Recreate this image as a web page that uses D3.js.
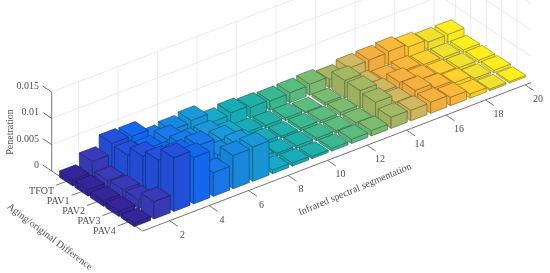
<!DOCTYPE html>
<html>
<head>
<meta charset="utf-8">
<script src="https://d3js.org/d3.v7.min.js"></script>
<style>
  body { margin: 0; background: #fff; }
  svg { filter: blur(0.3px); }
  text { font-family: "Liberation Serif", serif; font-size: 10px; fill: #505050; }
</style>
</head>
<body>
<svg id="chart" width="550" height="273"></svg>
<script>
const rowLabels = ['TFOT', 'PAV1', 'PAV2', 'PAV3', 'PAV4']
const xTicks = [2, 4, 6, 8, 10, 12, 14, 16, 18, 20]
const zTicks = [0, 0.005, 0.01, 0.015]
const zTickLabels = ['0', '0.005', '0.01', '0.015']

// one array per row, 20 segments each
const tfot = [.0012, .0032, .0052, .0051, .0030, .0034, .0038, .0020, .0024, .0020, .0018, .0019, .0021, .0016, .0023, .0024, .0026, .0020, .0015, .0015]
const pav1 = [.0012, .0015, .0049, .0044, .0050, .0030, .0030, .0015, .0006, .0005, .0005, .0002, .0005, .0033, .0010, .0006, .0009, .0006, .0005, .0005]
const pav2 = [.0010, .0017, .0066, .0052, .0059, .0034, .0040, .0017, .0006, .0004, .0005, .0005, .0006, .0033, .0015, .0020, .0011, .0007, .0005, .0005]
const pav3 = [.0010, .0017, .0078, .0075, .0077, .0045, .0050, .0010, .0005, .0005, .0005, .0005, .0006, .0030, .0016, .0024, .0015, .0010, .0004, .0005]
const pav4 = [.0007, .0033, .0102, .0088, .0045, .0063, .0065, .0007, .0006, .0004, .0005, .0008, .0010, .0021, .0020, .0021, .0016, .0008, .0003, .0003]
const rows = [tfot, pav1, pav2, pav3, pav4]

const colColors = ['#35249a', '#3a3ab8', '#2450dc', '#1468ee', '#1a78e8', '#1a88e0', '#1a98d8', '#18a8c8', '#18acb8', '#20b0a8',
  '#3cb890', '#5cbc80', '#7cbc70', '#a4b864', '#d0b860', '#f4b040', '#fbb63c', '#ffd030', '#f0e030', '#ffee20']

const svg = d3.select('#chart')

// the three axes of the box, as fractions of their on-screen run
const xs = d3.scaleLinear().domain([0.64, 20.3]).range([0, 1])
const rs = d3.scaleLinear().domain([0, 5.9]).range([0, 1])
const zs = d3.scaleLinear().domain([0, 0.015]).range([0, 79])

function project(x, r, z) {
  const u = xs(x), v = rs(r)
  return [51.7 + u * 388.3 + v * 91, 171 - u * 148.4 + v * 60 - zs(z)]
}
const line = pts => 'M' + pts.map(p => p.join(',')).join('L') + 'Z'

// back wall grid
const grid = svg.append('g').attr('fill', 'none').attr('stroke', '#e6e6e6').attr('stroke-width', 0.8)
function gridLine(a, b) { grid.append('line').attr('x1', a[0]).attr('y1', a[1]).attr('x2', b[0]).attr('y2', b[1]) }
xTicks.forEach(x => gridLine(project(x, 0, 0), project(x, 0, 0.015)))
d3.range(1, 6).forEach(r => gridLine(project(20.3, r, 0), project(20.3, r, 0.015)))
zTicks.forEach(z => {
  gridLine(project(0.64, 0, z), project(20.3, 0, z))
  gridLine(project(20.3, 0, z), project(20.3, 5.9, z))
})

// axes
const axes = svg.append('g').attr('stroke', '#666').attr('stroke-width', 0.9)
function axisLine(a, b) { axes.append('line').attr('x1', a[0]).attr('y1', a[1]).attr('x2', b[0]).attr('y2', b[1]) }
axisLine(project(0.64, 0, 0), project(0.64, 0, 0.015))
axisLine(project(0.64, 0, 0), project(0.64, 5.9, 0))
axisLine(project(0.64, 5.9, 0), project(20.3, 5.9, 0))

zTicks.forEach((z, i) => {
  const p = project(0.64, 0, z)
  axisLine(p, [p[0] - 9, p[1] - 6])
  svg.append('text').attr('x', 39).attr('y', p[1] - 3).attr('text-anchor', 'end').text(zTickLabels[i])
})
rowLabels.forEach((d, i) => {
  const p = project(0.64, i + 1, 0)
  axisLine(p, [p[0] - 11, p[1] + 4])
  svg.append('text').attr('x', p[0] - 13).attr('y', p[1] + 12.5).attr('text-anchor', 'end').text(d)
})
xTicks.forEach(x => {
  const p = project(x, 5.9, 0)
  axisLine(p, [p[0] + 8.5, p[1] + 5.7])
  svg.append('text').attr('x', p[0] + 13).attr('y', p[1] + 17).attr('text-anchor', 'middle').text(x)
})

// bars, far ones first
const wx = 0.41, wr = 0.42
const bars = svg.append('g').attr('stroke-width', 0.7)
for (let x = 20; x >= 1; x--) {
  rows.forEach((row, i) => {
    const r = i + 1, z = row[x - 1]
    const col = d3.rgb(colColors[x - 1])
    const edge = col.darker(1.5).formatHex()
    const a0 = project(x - wx, r - wr, z), b0 = project(x - wx, r + wr, z)
    const c0 = project(x + wx, r + wr, z), d0 = project(x + wx, r - wr, z)
    const a1 = project(x - wx, r - wr, 0), b1 = project(x - wx, r + wr, 0), c1 = project(x + wx, r + wr, 0)
    const g = bars.append('g').attr('stroke', edge)
    g.append('path').attr('d', line([a0, b0, b1, a1])).attr('fill', col.darker(0.12))
    g.append('path').attr('d', line([b0, c0, c1, b1])).attr('fill', col.darker(0.05))
    g.append('path').attr('d', line([a0, b0, c0, d0])).attr('fill', col)
  })
}

// axis titles
svg.append('text').attr('transform', 'translate(13,132) rotate(-90)').attr('text-anchor', 'middle').text('Penetration')
svg.append('text').attr('transform', 'translate(48,239) rotate(37)').attr('text-anchor', 'middle').text('Aging/original Difference')
svg.append('text').attr('transform', 'translate(356,192) rotate(-22.8)').attr('text-anchor', 'middle').text('Infrared spectral segmentation')
</script>
</body>
</html>
